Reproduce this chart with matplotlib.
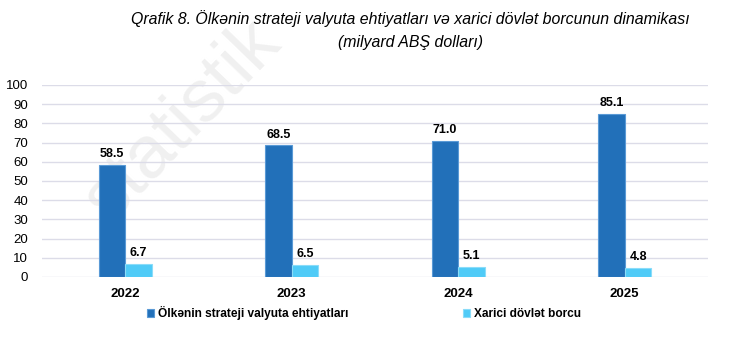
import matplotlib
matplotlib.use("Agg")
import matplotlib.pyplot as plt
import numpy as np

years = ["2022", "2023", "2024", "2025"]
reserves = [58.5, 68.5, 71.0, 85.1]
debt = [6.7, 6.5, 5.1, 4.8]
series_names = ["Ölkənin strateji valyuta ehtiyatları", "Xarici dövlət borcu"]
yticks = [0, 10, 20, 30, 40, 50, 60, 70, 80, 90, 100]

plt.rcParams['font.family'] = ['Liberation Sans', 'DejaVu Sans']

fig = plt.figure(figsize=(7.44, 3.58), dpi=100)
fig.text(0.245, 0.665, "statistik", rotation=46, fontsize=54, color='#F0F0F0',
         ha='center', va='center', zorder=-5)
ax = fig.add_axes([0.0565, 0.2263, 0.8951, 0.5363])
ax.patch.set_alpha(0)

x = np.arange(len(years))
w = 0.16
b1 = ax.bar(x - w/2, reserves, w, color='#2270B9', edgecolor='#5A9AD6', linewidth=0.8,
            label=series_names[0], zorder=3)
b2 = ax.bar(x + w/2, debt, w, color='#4FCBF7', edgecolor='#8ADCF9', linewidth=0.8,
            label=series_names[1], zorder=3)
for xi, v in zip(x - w/2, reserves):
    ax.text(xi, v + 2.5, f"{v:.1f}", ha='center', va='bottom', fontsize=9, fontweight='bold')
for xi, v in zip(x + w/2, debt):
    ax.text(xi, v + 2.5, f"{v:.1f}", ha='center', va='bottom', fontsize=9, fontweight='bold')

ax.set_xlim(-0.5, 3.5)
ax.set_ylim(0, 100)
ax.set_yticks(yticks)
ax.set_yticklabels([str(t) for t in yticks], fontsize=9.5)
ax.set_xticks(x)
ax.set_xticklabels(years, fontsize=9.5, fontweight='bold')
ax.tick_params(axis='both', length=0)
ax.tick_params(axis='y', pad=10)
ax.tick_params(axis='x', pad=8)
ax.grid(axis='y', color='#DCDCE8', linewidth=1.0, zorder=0)
for s in ax.spines.values():
    s.set_visible(False)

fig.text(0.552, 0.948, "Qrafik 8. Ölkənin strateji valyuta ehtiyatları və xarici dövlət borcunun dinamikası",
         ha='center', va='center', fontsize=11.4, style='italic')
fig.text(0.552, 0.882, "(milyard ABŞ dolları)", ha='center', va='center', fontsize=11.4, style='italic')

leg = fig.legend(handles=[b1, b2], labels=series_names, loc='center', bbox_to_anchor=(0.489, 0.125),
                 ncol=2, frameon=False, fontsize=8.6, handlelength=0.6, handleheight=0.6,
                 handletextpad=0.3, columnspacing=9.6)
for t in leg.get_texts():
    t.set_fontweight('bold')

fig.savefig("out.png", dpi=100)
